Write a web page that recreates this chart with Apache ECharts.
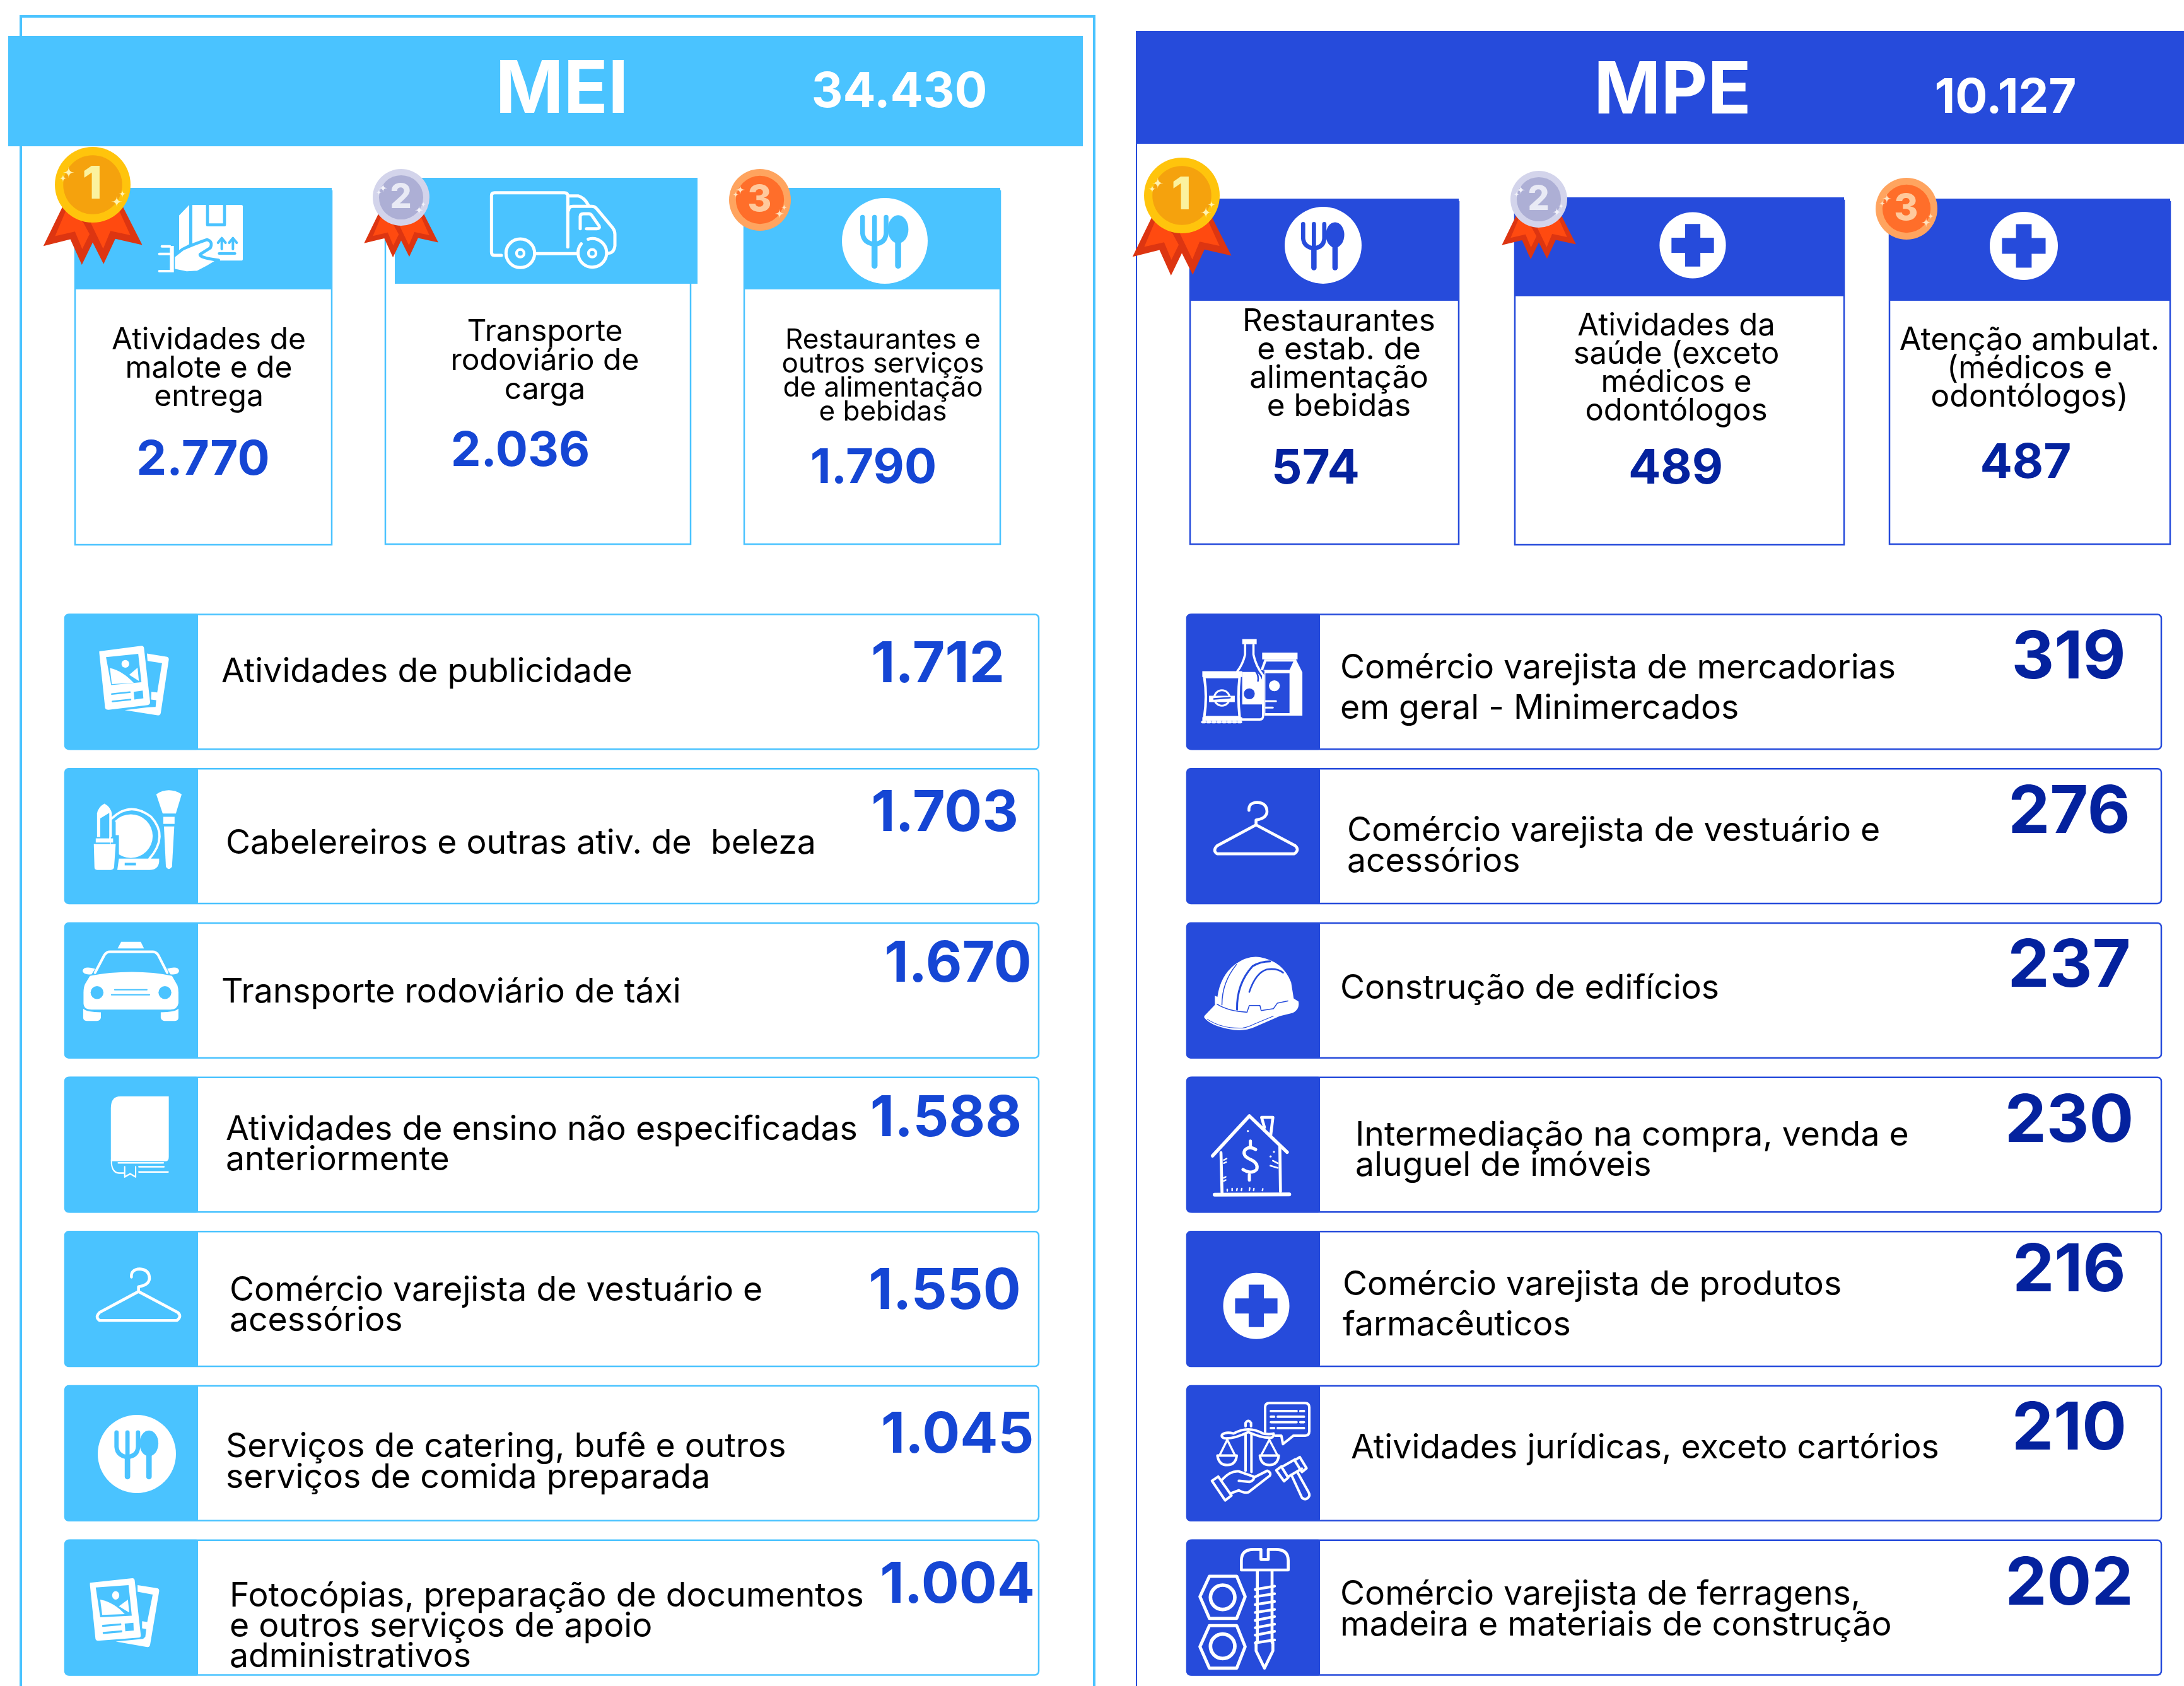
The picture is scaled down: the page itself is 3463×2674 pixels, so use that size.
<!DOCTYPE html>
<html>
<head>
<meta charset="utf-8">
<title>MEI e MPE</title>
<script src="https://cdn.jsdelivr.net/npm/echarts@6/dist/echarts.min.js"></script>
<style>
  html, body { margin: 0; padding: 0; background: #fff; }
  #chart { width: 3463px; height: 2674px; }
</style>
</head>
<body>
<div id="chart"></div>
<script>
// data
const meiTotal = 34430
const mpeTotal = 10127

const meiTopLabels = ['Atividades de\nmalote e de\nentrega', 'Transporte\nrodoviário de\ncarga', 'Restaurantes e\noutros serviços\nde alimentação\ne bebidas']
const meiTopValues = [2770, 2036, 1790]
const mpeTopLabels = ['Restaurantes\ne estab. de\nalimentação\ne bebidas', 'Atividades da\nsaúde (exceto\nmédicos e\nodontólogos', 'Atenção ambulat.\n(médicos e\nodontólogos)']
const mpeTopValues = [574, 489, 487]

const meiLabels = [
  'Atividades de publicidade',
  'Cabelereiros e outras ativ. de  beleza',
  'Transporte rodoviário de táxi',
  'Atividades de ensino não especificadas\nanteriormente',
  'Comércio varejista de vestuário e\nacessórios',
  'Serviços de catering, bufê e outros\nserviços de comida preparada',
  'Fotocópias, preparação de documentos\ne outros serviços de apoio\nadministrativos'
]
const meiValues = [1712, 1703, 1670, 1588, 1550, 1045, 1004]

const mpeLabels = [
  'Comércio varejista de mercadorias\nem geral - Minimercados',
  'Comércio varejista de vestuário e\nacessórios',
  'Construção de edifícios',
  'Intermediação na compra, venda e\naluguel de imóveis',
  'Comércio varejista de produtos\nfarmacêuticos',
  'Atividades jurídicas, exceto cartórios',
  'Comércio varejista de ferragens,\nmadeira e materiais de construção'
]
const mpeValues = [319, 276, 237, 230, 216, 210, 202]

// colours
const LIGHT = '#4AC3FF'
const DARK = '#264BDB'
const NUM_LIGHT = '#1546D4'
const NUM_DARK = '#04229E'
const FONT = 'Inter'

function fmt(n) {
  return String(n).replace(/\B(?=(\d{3})+$)/g, '.')
}

function circ(x, y, r) {
  return `M${x - r},${y} A${r},${r} 0 1 1 ${x + r},${y} A${r},${r} 0 1 1 ${x - r},${y} Z`
}

function star(x, y, h) {
  return `M${x},${y - h} Q${x},${y} ${x + h},${y} Q${x},${y} ${x},${y + h} Q${x},${y} ${x - h},${y} Q${x},${y} ${x},${y - h} Z`
}

// icons: [path, fill, stroke, lineWidth], W is white and A the panel colour
const fw = d => [d, 'W']
const fa = d => [d, 'A']
const sw = (d, lw) => [d, null, 'W', lw]
const sa = (d, lw) => [d, null, 'A', lw]

const k196 = [1 / 1.96, 1 / 1.96]
const k3 = [1 / 3, 1 / 3]

const ICONS = {
  newsA: {k: k196, items: [
    fw('M337,167 L400,177 Q406,180 405,186 L380,352 Q378,360 370,359 L268,343 L340,334 Q346,333 364,333 L366,312 L350,310 L351,286 L369,288 L384,197 L339,190 Z'),
    fw('M189,160 L320,143 Q327,143 328,150 L347,318 Q347,325 340,327 L218,342 Q208,342 207,335 L189,165 Z'),
    fa('M210,178 L310,168 L320,256 L226,265 Z'),
    fw('M222,212 Q260,220 296,258 L228,262 Z'),
    fw('M282,233 L308,211 L312,252 Z'),
    fw(circ(270, 199, 12)),
    sa('M228,293 L284,287', 5),
    sa('M230,316 L286,310', 5),
    fa('M296,286 L324,282 L326,306 L298,310 Z')
  ]},
  newsB: {k: [1 / 1.96, 1 / 1.61], items: [
    fw('M308,1308 L370,1316 Q376,1318 375,1324 L347,1460 Q345,1467 338,1466 L240,1452 L325,1445 L332,1440 L335,1420 L322,1418 L322,1400 L338,1402 L355,1332 L308,1325 Z'),
    fw('M160,1302 L292,1290 Q298,1290 299,1296 L318,1436 Q318,1442 312,1442 L185,1450 Q178,1450 177,1444 L160,1308 Z'),
    fa('M178,1314 L280,1308 L290,1386 L192,1390 Z'),
    fw('M192,1345 Q235,1352 268,1382 L198,1384 Z'),
    fw('M250,1362 L278,1345 L282,1378 Z'),
    fw(circ(240, 1334, 11)),
    sa('M200,1412 L255,1408', 5),
    sa('M202,1430 L258,1426', 5),
    fa('M268,1406 L295,1404 L296,1424 L270,1426 Z')
  ]},
  lips: {k: k196, items: [
    sw('M228,680 Q285,625 350,675 Q405,735 345,805', 7),
    fw(circ(287, 735, 68)),
    fa('M225,690 L240,690 L240,732 L250,732 L250,800 L225,800 Z'),
    fw('M250,805 L375,805 L375,815 Q372,840 345,840 L245,840 Z'),
    fa('M268,818 L303,818 L303,826 L268,826 Z'),
    fw('M172,760 L240,760 L235,832 Q233,840 225,840 L182,840 Q174,840 174,832 Z'),
    fw('M178,742 L232,742 L232,755 L178,755 Z'),
    fw('M182,738 L182,665 Q185,645 205,634 Q225,645 228,665 L228,738 Z'),
    fa('M192,740 L192,680 L220,663 L220,740 Z'),
    fw('M366,605 Q405,580 445,605 L427,665 L386,665 Z'),
    fw('M388,675 L423,675 L423,697 L388,697 Z'),
    fw('M390,705 L422,705 L415,830 Q405,845 396,830 Z')
  ]},
  taxi: {k: k196, items: [
    fw('M246,1085 L257,1064 L318,1064 L328,1085 Z'),
    sw('M176,1160 L205,1105 Q212,1095 222,1095 L355,1095 Q365,1095 372,1105 L400,1160', 8),
    fw('M176,1148 Q140,1138 137,1155 Q140,1168 165,1165 Z'),
    fw('M400,1148 Q435,1138 437,1155 Q435,1168 410,1165 Z'),
    fw('M160,1170 Q220,1158 290,1158 Q360,1158 415,1170 L432,1200 Q435,1210 435,1222 L435,1255 Q432,1275 410,1275 L165,1275 Q140,1275 140,1255 L140,1222 Q140,1205 145,1195 Z'),
    fa(circ(182, 1222, 20)),
    fa(circ(393, 1222, 20)),
    sa('M237,1213 L337,1213', 4),
    sa('M227,1229 L345,1229', 4),
    fw('M139,1272 Q150,1283 194,1283 L194,1300 Q192,1310 182,1310 L150,1310 Q139,1310 139,1300 Z'),
    fw('M435,1272 Q424,1283 380,1283 L380,1300 Q382,1310 392,1310 L424,1310 Q435,1310 435,1300 Z')
  ]},
  book: {k: [1 / 1.96, 1 / 1.61], items: [
    fw('M225,90 Q225,60 255,60 L405,60 L405,215 Q405,226 395,226 L225,226 Z'),
    sw('M227,222 L227,232 Q230,255 250,256 L265,256', 4),
    sw('M248,230 L388,230', 4),
    sw('M268,240 L268,266 L285,258 L302,266 L302,240', 4),
    sw('M312,240 L390,240', 4),
    sw('M312,253 L403,253', 4)
  ]},
  hanger: {k: k196, items: [
    sw('M234,655 Q232,631 260,630 Q290,632 290,660 Q288,680 256,685 L256,700 L135,765 Q120,780 135,790 L375,790 Q392,778 378,765 L256,700', 9)
  ]},
  goods: {k: k196, items: [
    sw('M95,240 Q105,300 95,365 L205,365 Q198,300 205,240 Z', 8),
    fw('M89,222 L213,222 L213,240 L89,240 Z'),
    fw('M89,365 L213,365 L213,376 L89,376 Z'),
    [ 'M89,380 L213,380', null, 'W', 8, [8, 8]],
    sw(circ(150, 305, 24), 6),
    fw('M110,298 L190,298 L190,318 L110,318 Z'),
    sa('M125,308 L175,304', 5),
    fw('M213,122 L258,122 L258,138 L213,138 Z'),
    sw('M222,140 L222,170 Q215,200 198,222', 7),
    sw('M248,140 L248,170 Q255,205 278,235 L278,360 Q278,372 268,372 L213,372', 7),
    fw('M213,224 L258,224 Q275,240 278,260 L278,325 L213,325 Z'),
    fa(circ(235, 292, 17)),
    sa('M255,222 Q265,235 262,252', 5),
    fw('M275,164 L385,164 L385,185 L275,185 Z'),
    fw('M270,218 L282,185 L380,185 L400,225 L400,360 L282,360 L282,220 Z'),
    fa('M285,228 L360,228 L360,352 L285,352 Z'),
    fa('M278,218 L288,192 L372,192 L360,218 Z'),
    fw(circ(313, 267, 17)),
    sw('M285,315 L318,315', 6),
    sw('M285,335 L308,335', 6)
  ]},
  helmet: {k: k196, items: [
    fw('M95,1295 L128,1260 L128,1232 L136,1235 Q145,1170 190,1135 Q230,1105 270,1112 Q340,1125 365,1190 L373,1240 L388,1250 Q392,1275 370,1285 L330,1295 L250,1330 Q215,1345 170,1335 Q115,1325 95,1300 Z'),
    sa('M150,1260 Q150,1190 195,1135', 3),
    sa('M197,1275 Q195,1195 245,1140 Q270,1125 300,1125', 6),
    sa('M235,1220 Q255,1160 290,1150 Q320,1145 340,1160', 5),
    sa('M135,1258 Q170,1280 228,1283 L235,1262 L268,1262 L272,1278 L310,1272 L322,1255 L355,1248', 3),
    sa('M105,1305 Q150,1335 215,1332 Q230,1330 250,1320 L310,1295', 2)
  ]},
  house: {k: k3, items: [
    sw('M65,245 L240,55 L420,228', 16),
    sw('M312,110 L298,62 L352,62 L342,145', 14),
    sw('M105,230 L110,420', 14),
    sw('M385,200 L388,415', 14),
    sw('M75,430 L430,428', 18),
    sw('M135,412 L135,405', 7), sw('M158,410 L158,400', 7), sw('M180,410 L182,400', 7),
    sw('M202,410 L204,400', 7), sw('M240,410 L242,398', 7), sw('M260,410 L262,400', 7), sw('M302,410 L304,402', 7),
    sw('M245,175 L245,200', 15),
    sw('M270,215 Q240,195 218,218 Q205,245 245,262 Q285,280 275,310 Q250,335 210,310', 15),
    sw('M240,335 L240,360', 15),
    fw(circ(233, 127, 5)), fw(circ(357, 226, 5)), fw(circ(341, 248, 5)),
    sw('M118,265 L132,258', 7), sw('M118,280 L130,275', 7), sw('M118,350 L128,345', 7), sw('M118,365 L128,360', 7),
    sw('M340,292 L375,302', 8), sw('M352,268 L375,280', 8)
  ]},
  law: {k: k3, items: [
    sw('M315,175 L315,60 Q315,40 335,40 L505,40 Q525,40 525,60 L525,175 Q525,195 505,195 L450,195 L400,235 L392,195 L365,195', 12),
    sw('M342,78 L465,78', 11), sw('M482,78 L500,78', 11),
    sw('M342,105 L358,105', 11), sw('M375,105 L500,105', 11),
    sw('M342,131 L465,131', 11), sw('M482,131 L500,131', 11),
    sw('M342,159 L358,159', 11), sw('M375,159 L500,159', 11),
    sw('M110,190 Q130,175 165,185 Q235,145 305,185 Q335,190 355,185 Q360,195 345,205 Q300,208 235,178 Q170,210 125,208 Q105,205 110,190 Z', 12),
    sw('M222,190 L222,362', 12), sw('M250,190 L250,368', 12),
    sw('M222,150 L222,135 Q235,115 248,135 L248,150', 12),
    sw('M88,290 L180,290 Q175,335 135,335 Q95,335 88,290 Z', 12),
    sw('M135,215 L100,285', 10), sw('M135,215 L170,285', 10),
    sw('M290,290 L380,290 Q375,335 335,335 Q295,335 290,290 Z', 12),
    sw('M335,215 L298,285', 10), sw('M335,215 L372,285', 10),
    sw('M62,410 L92,390 L155,480 L125,503 Z', 12),
    sw('M110,405 Q150,360 190,365 L260,390 Q265,410 240,415 L190,410', 12),
    sw('M260,395 L325,362 Q345,370 338,385 L235,465 Q215,470 190,455 L150,470', 12),
    sw('M368,360 L392,342 L425,395 L405,412 Z', 12),
    sw('M455,312 L480,297 L512,350 L490,368 Z', 12),
    sw('M392,345 L458,308', 12), sw('M425,390 L490,352', 12),
    sw('M440,382 L490,490 Q505,505 520,490 Q530,480 522,465 L468,368', 12)
  ]},
  screw: {k: k3, items: [
    sw('M232,145 L232,100 Q232,47 290,47 L325,47 L325,95 L360,95 L360,47 L395,47 Q455,47 455,100 L455,145 Z', 14),
    sw('M308,148 L308,490', 14), sw('M378,148 L378,490', 14),
    sw('M302,490 L302,530 L342,612 L382,530 L382,490', 14),
    sw('M298,238 L390,222', 13), sw('M298,272 L390,258', 13), sw('M298,310 L390,295', 13), sw('M298,347 L390,333', 13),
    sw('M298,385 L390,367', 13), sw('M298,420 L390,403', 13), sw('M298,455 L390,437', 13), sw('M298,492 L390,478', 13),
    sw('M35,272 L80,175 L210,175 L250,272 L210,375 L80,375 Z', 15), sw(circ(143, 275, 58), 17),
    sw('M35,510 L80,410 L210,410 L250,510 L210,612 L80,612 Z', 15), sw(circ(143, 508, 58), 17)
  ]},
  hand: {k: k3, items: [
    fw('M225,75 L458,75 Q465,75 465,82 L465,332 Q465,340 458,340 L225,340 Z'),
    fw('M162,125 L210,75 L210,262 L162,290 Z'),
    sa('M297,75 L297,170 L378,170 L378,75', 14),
    sa('M365,285 L365,240', 12), sa('M347,255 L365,233 L383,255', 12),
    sa('M418,285 L418,240', 12), sa('M400,255 L418,233 L436,255', 12),
    sa('M352,306 L428,306', 12),
    ['M135,320 L180,285 Q230,262 295,240 Q325,250 310,280 L262,310 Q255,325 350,338 Q300,370 250,395 L200,398 L135,385 Z', 'W', 'A', 14],
    sw('M80,272 L118,272', 12), sw('M68,308 L118,308', 12), sw('M68,390 L130,390', 12),
    fw('M118,270 L137,270 L137,396 L118,396 Z')
  ]},
  truck: {k: k3, items: [
    sw('M105,345 L72,345 Q58,345 58,330 L58,60 Q58,47 72,47 L405,47 Q421,47 421,62 L421,305', 15),
    sw('M425,62 L470,62 Q500,70 518,105', 15),
    sw('M425,130 Q425,112 445,112 L535,112 Q550,112 560,125 L635,215 Q645,228 645,245 L645,300 Q640,335 612,335', 15),
    sw('M480,218 L480,160 Q480,147 495,147 L520,147 Q530,147 535,155 L570,205 Q575,218 560,218 L510,218', 15),
    sw(circ(195, 335, 68), 15), sw(circ(195, 335, 18), 13),
    sw('M268,337 L465,337', 15),
    sw('M485,290 A68,68 0 1 0 518,268', 15), sw(circ(537, 335, 18), 13)
  ]}
}

// round icons, unit radius 100
const FOOD = [
  fw(circ(0, 0, 100)),
  sa('M-52,-55 L-52,-18 Q-50,5 -24,8 Q2,5 3,-18 L3,-55', 11),
  sa('M-24,-55 L-24,58', 11),
  sa('M-24,8 L-24,58', 14),
  fa('M7,-27 A24,33 0 1 1 55,-27 A24,33 0 1 1 7,-27 Z'),
  sa('M31,0 L31,58', 14)
]
const CROSS = [
  fw(circ(0, 0, 100)),
  fa('M-23,-64 L23,-64 L23,-23 L64,-23 L64,23 L23,23 L23,64 L-23,64 L-23,23 L-64,23 L-64,-23 L-23,-23 Z')
]

function drawItems(items, accent) {
  return items.map(it => ({
    type: 'path',
    shape: {pathData: it[0]},
    style: {
      fill: it[1] === 'W' ? '#fff' : it[1] === 'A' ? accent : 'none',
      stroke: it[2] === 'W' ? '#fff' : it[2] === 'A' ? accent : null,
      lineWidth: it[3] || 0,
      lineDash: it[4] || null,
      lineCap: 'round',
      lineJoin: 'round'
    }
  }))
}

function drawIcon(name, x, y, accent) {
  const icon = ICONS[name]
  return {type: 'group', x, y, scaleX: icon.k[0], scaleY: icon.k[1], children: drawItems(icon.items, accent)}
}

function drawRound(items, x, y, r, accent) {
  return {type: 'group', x, y, scaleX: r / 100, scaleY: r / 100, children: drawItems(items, accent)}
}

// medal drawn in the 540 wide crop units, centred on 260,204
const MEDAL_COLORS = [
  {outer: '#FFC40C', inner: '#F5A20D', digit: '#FBF29E', star: '#FFF3B0'},
  {outer: '#D3D4EB', inner: '#ADAFD5', digit: '#E9EAF5', star: '#F3F3FA'},
  {outer: '#FFA45F', inner: '#FF6E2A', digit: '#FFC99C', star: '#FFE3C0'}
]

function drawMedal(rank, x, y, r) {
  const k = r / 181
  const c = MEDAL_COLORS[rank]
  const children = []
  const fill = (d, color) => children.push({type: 'path', shape: {pathData: d}, style: {fill: color}})
  if (rank < 2) {
    fill('M115,310 L24,497 L153,465 L208,587 L260,480 L312,583 L368,463 L497,492 L405,310 Z', '#DD3511')
    fill('M135,320 L80,450 L175,428 L210,512 L245,440 L215,385 Z', '#FF4A10')
    fill('M250,385 L310,510 L345,425 L440,445 L385,325 Z', '#FF4A10')
  }
  fill(circ(260, 204, 181), c.outer)
  fill(circ(260, 204, 141), c.inner)
  fill(star(145, 145, 27), c.star)
  fill(star(118, 173, 18), c.star)
  fill(star(375, 285, 27), c.star)
  fill(star(402, 248, 18), c.star)
  children.push({
    type: 'text',
    x: 258, y: 206,
    style: {text: String(rank + 1), fill: c.digit, font: `800 215px ${FONT}`, textAlign: 'center', textVerticalAlign: 'middle'}
  })
  return {type: 'group', x: x - 260 * k, y: y - 204 * k, scaleX: k, scaleY: k, children}
}

function drawText(text, x, y, size, color, opts) {
  const o = opts || {}
  const lines = text.split('\n').length
  return {
    type: 'text',
    x,
    y: y + (lines - 1) * (o.lh || 0) / 2,
    style: {
      text,
      fill: color,
      font: `${o.weight || 400} ${size}px ${FONT}`,
      lineHeight: o.lh || undefined,
      textAlign: o.align || 'left',
      textVerticalAlign: 'middle'
    }
  }
}

// layout of the three cards per panel
const meiCards = [
  {x0: 119, x1: 526, top: 298, head: 459, hx0: 119, hx1: 526, bottom: 864},
  {x0: 611, x1: 1095, top: 282, head: 450, hx0: 626, hx1: 1106, bottom: 863},
  {x0: 1180, x1: 1586, top: 298, head: 459, hx0: 1180, hx1: 1586, bottom: 863}
]
const meiCardText = [
  {x: 331, y: 540, lh: 45, size: 48, vx: 322, vy: 730},
  {x: 864, y: 527, lh: 46, size: 48, vx: 825, vy: 716},
  {x: 1400, y: 540, lh: 38, size: 44, vx: 1385, vy: 743}
]
const meiCardIcons = [
  c => drawIcon('hand', 230, 300, c),
  c => drawIcon('truck', 760, 290, c),
  c => drawRound(FOOD, 1403, 382, 68, c)
]
const meiMedals = [[147, 293, 60], [636, 313, 45], [1205, 317, 49]]

const mpeCards = [
  {x0: 1887, x1: 2313, top: 315, head: 477, hx0: 1887, hx1: 2313, bottom: 863},
  {x0: 2402, x1: 2924, top: 313, head: 470, hx0: 2402, hx1: 2924, bottom: 864},
  {x0: 2996, x1: 3441, top: 315, head: 477, hx0: 2996, hx1: 3441, bottom: 863}
]
const mpeCardText = [
  {x: 2123, y: 510, lh: 45, size: 49.5, vx: 2086, vy: 744},
  {x: 2658, y: 517, lh: 45, size: 49, vx: 2657, vy: 744},
  {x: 3218, y: 540, lh: 45, size: 50, vx: 3212, vy: 735}
]
const mpeCardIcons = [
  c => drawRound(FOOD, 2098, 389, 61, c),
  c => drawRound(CROSS, 2684, 389, 52.6, c),
  c => drawRound(CROSS, 3209, 390, 54, c)
]
const mpeMedals = [[1874, 310, 60], [2440, 316, 45], [3023, 331, 49]]

// layout of the seven rows per panel
const meiRowLayout = {
  labelX: [351, 358, 351, 358, 364, 358, 364],
  labelDy: [-15, 12, 3, -24, -13, -10, -18],
  lineH: [0, 0, 0, 48, 48, 49, 48],
  valueX: [1487, 1498, 1519, 1500, 1498, 1518, 1518],
  valueDy: [-26, -35, -41, -40, -11, -28, -34],
  valueSize: 89,
  icons: [
    (b, y, c) => drawIcon('newsA', b - 42, y - 130, c),
    (b, y, c) => drawIcon('lips', b - 42, y - 375, c),
    (b, y, c) => drawIcon('taxi', b - 42, y - 620, c),
    (b, y, c) => drawIcon('book', b - 42, y - 114, c),
    (b, y, c) => drawIcon('hanger', b - 14, y - 369, c),
    (b, y, c) => drawRound(FOOD, b + 114, y + 1, 62, c),
    (b, y, c) => drawIcon('newsB', b - 42, y - 848, c)
  ]
}
const mpeRowLayout = {
  labelX: [2125, 2136, 2125, 2149, 2129, 2142, 2125],
  labelDy: [-21, -8, -3, -15, -22, -8, -21],
  lineH: [64, 49, 0, 48, 64, 0, 49],
  valueX: [3280, 3281, 3281, 3281, 3281, 3281, 3281],
  valueDy: [-37, -37, -37, -36, -44, -37, -36],
  valueSize: 105,
  icons: [
    (b, y, c) => drawIcon('goods', b - 21, y - 130, c),
    (b, y, c) => drawIcon('hanger', b - 21, y - 375, c),
    (b, y, c) => drawIcon('helmet', b - 21, y - 620, c),
    (b, y, c) => drawIcon('house', b + 19, y - 64, c),
    (b, y, c) => drawRound(CROSS, b + 110, y + 11, 52.5, c),
    (b, y, c) => drawIcon('law', b + 19, y - 93, c),
    (b, y, c) => drawIcon('screw', b + 9, y - 108, c)
  ]
}

function cardSeries(labels, values, cards, text, icons, medals, accent, numColor) {
  return {
    type: 'custom',
    coordinateSystem: 'none',
    silent: true,
    data: values,
    renderItem(params, api) {
      const i = params.dataIndex
      const c = cards[i]
      const t = text[i]
      return {
        type: 'group',
        children: [
          {type: 'rect', shape: {x: c.x0, y: c.top + 5, width: c.x1 - c.x0, height: c.bottom - c.top - 5}, style: {fill: '#fff', stroke: accent, lineWidth: 2.5}},
          {type: 'rect', shape: {x: c.hx0, y: c.top, width: c.hx1 - c.hx0, height: c.head - c.top}, style: {fill: accent}},
          icons[i](accent),
          drawText(labels[i], t.x, t.y, t.size, '#000', {lh: t.lh, align: 'center'}),
          drawText(fmt(api.value(0)), t.vx, t.vy, 76, numColor, {weight: 700, align: 'center'}),
          drawMedal(i, medals[i][0], medals[i][1], medals[i][2])
        ]
      }
    }
  }
}

function rowSeries(index, labels, values, layout, accent, numColor) {
  return {
    type: 'custom',
    coordinateSystem: 'cartesian2d',
    xAxisIndex: index,
    yAxisIndex: index,
    silent: true,
    clip: false,
    encode: {x: 0, y: 1},
    data: values.map((v, i) => [0, i, v]),
    renderItem(params, api) {
      const i = params.dataIndex
      const cs = params.coordSys
      const cy = api.coord([0, api.value(1)])[1]
      const h = api.size([0, 1])[1] - 29
      const boxW = 211
      return {
        type: 'group',
        children: [
          {type: 'rect', shape: {x: cs.x, y: cy - h / 2 + 1, width: cs.width, height: h - 2, r: 6}, style: {fill: '#fff', stroke: accent, lineWidth: 2.5}},
          {type: 'rect', shape: {x: cs.x, y: cy - h / 2, width: boxW, height: h, r: [8, 3, 3, 8]}, style: {fill: accent}},
          layout.icons[i](cs.x, cy, accent),
          drawText(labels[i], layout.labelX[i], cy + layout.labelDy[i], 53.5, '#000', {lh: layout.lineH[i]}),
          drawText(fmt(api.value(2)), layout.valueX[i], cy + layout.valueDy[i], layout.valueSize, numColor, {weight: 700, align: 'center'})
        ]
      }
    }
  }
}

const hiddenX = {type: 'value', min: 0, max: 1, show: false}
const hiddenY = cats => ({type: 'category', inverse: true, show: false, data: cats})

const option = {
  animation: false,
  backgroundColor: '#fff',
  grid: [
    {left: 103, top: 959, width: 1544, height: 1713, show: false},
    {left: 1882, top: 959, width: 1545, height: 1713, show: false}
  ],
  xAxis: [Object.assign({gridIndex: 0}, hiddenX), Object.assign({gridIndex: 1}, hiddenX)],
  yAxis: [Object.assign({gridIndex: 0}, hiddenY(meiLabels)), Object.assign({gridIndex: 1}, hiddenY(mpeLabels))],
  graphic: [
    {type: 'rect', z: 0, shape: {x: 33, y: 26, width: 1702, height: 2700}, style: {fill: '#fff', stroke: LIGHT, lineWidth: 4}},
    {type: 'rect', z: 0, shape: {x: 1801, y: 100, width: 2, height: 2600}, style: {fill: DARK}},
    {type: 'rect', z: 1, shape: {x: 13, y: 57, width: 1704, height: 175}, style: {fill: LIGHT}},
    {type: 'rect', z: 1, shape: {x: 1801, y: 49, width: 1662, height: 179}, style: {fill: DARK}},
    {type: 'text', z: 3, x: 891, y: 144, style: {text: 'MEI', fill: '#fff', font: `700 116px ${FONT}`, textAlign: 'center', textVerticalAlign: 'middle'}},
    {type: 'text', z: 3, x: 1426, y: 147, style: {text: fmt(meiTotal), fill: '#fff', font: `700 77px ${FONT}`, textAlign: 'center', textVerticalAlign: 'middle'}},
    {type: 'text', z: 3, x: 2652, y: 146, style: {text: 'MPE', fill: '#fff', font: `700 114px ${FONT}`, textAlign: 'center', textVerticalAlign: 'middle'}},
    {type: 'text', z: 3, x: 3180, y: 156, style: {text: fmt(mpeTotal), fill: '#fff', font: `700 76px ${FONT}`, textAlign: 'center', textVerticalAlign: 'middle'}}
  ],
  series: [
    cardSeries(meiTopLabels, meiTopValues, meiCards, meiCardText, meiCardIcons, meiMedals, LIGHT, NUM_LIGHT),
    cardSeries(mpeTopLabels, mpeTopValues, mpeCards, mpeCardText, mpeCardIcons, mpeMedals, DARK, NUM_DARK),
    rowSeries(0, meiLabels, meiValues, meiRowLayout, LIGHT, NUM_LIGHT),
    rowSeries(1, mpeLabels, mpeValues, mpeRowLayout, DARK, NUM_DARK)
  ]
}

const chart = echarts.init(document.getElementById('chart'), null, {renderer: 'canvas'})
chart.setOption(option)
</script>
</body>
</html>
